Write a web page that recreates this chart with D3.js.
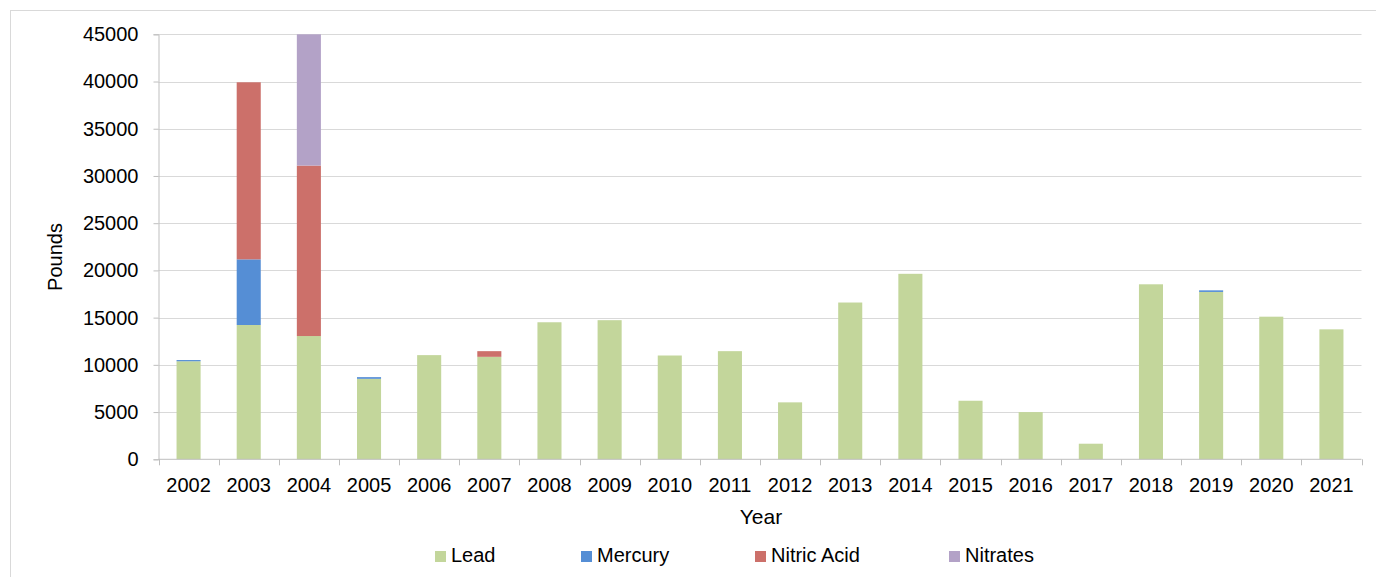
<!DOCTYPE html>
<html>
<head>
<meta charset="utf-8">
<script src="https://cdn.jsdelivr.net/npm/d3@7"></script>
<style>
  body { margin: 0; background: #fff; }
  svg { font-family: "Liberation Sans", Arial, sans-serif; }
</style>
</head>
<body>
<svg width="1376" height="577"></svg>
<script>
// data
var years = ["2002","2003","2004","2005","2006","2007","2008","2009","2010","2011",
             "2012","2013","2014","2015","2016","2017","2018","2019","2020","2021"];
var lead = [10380, 14220, 13050, 8520, 11030, 10850, 14510, 14730, 10990, 11450,
            6030, 16600, 19640, 6200, 5000, 1650, 18530, 17720, 15100, 13760];
var mercury = [130, 6950, 0, 180, 0, 0, 0, 0, 0, 0,
               0, 0, 0, 0, 0, 0, 0, 170, 0, 0];
var nitricAcid = [0, 18750, 18050, 0, 0, 600, 0, 0, 0, 0,
                  0, 0, 0, 0, 0, 0, 0, 0, 0, 0];
var nitrates = [0, 0, 13900, 0, 0, 0, 0, 0, 0, 0,
                0, 0, 0, 0, 0, 0, 0, 0, 0, 0];
var yTicks = [0, 5000, 10000, 15000, 20000, 25000, 30000, 35000, 40000, 45000];

var seriesNames = ["Lead", "Mercury", "Nitric Acid", "Nitrates"];
var colors = ["#c3d69b", "#558ed5", "#cc706a", "#b3a2c7"];

var rows = years.map(function(y, i) {
  return {year: y, "Lead": lead[i], "Mercury": mercury[i], "Nitric Acid": nitricAcid[i], "Nitrates": nitrates[i]};
});

var svg = d3.select("svg");

// outer frame
svg.append("rect")
  .attr("x", 10.5).attr("y", 10.5)
  .attr("width", 1400).attr("height", 600)
  .attr("fill", "none").attr("stroke", "#d9d9d9");

var plotL = 158.5, plotR = 1361.5, plotT = 34.3, plotB = 459.3;

var x = d3.scaleBand().domain(years).range([plotL, plotR]).paddingInner(0.6).paddingOuter(0.3);
var xb = d3.scaleBand().domain(years).range([plotL, plotR]);
var y = d3.scaleLinear().domain([0, 45000]).range([plotB, plotT]);

// grid
svg.append("g")
  .selectAll("line")
  .data(yTicks.slice(1))
  .enter().append("line")
  .attr("x1", plotL).attr("x2", plotR)
  .attr("y1", function(d) { return Math.round(y(d)) + 0.5; })
  .attr("y2", function(d) { return Math.round(y(d)) + 0.5; })
  .attr("stroke", "#d9d9d9").attr("stroke-width", 1);

// stacked bars
var stack = d3.stack().keys(seriesNames);
var layers = stack(rows);

svg.append("g")
  .selectAll("g")
  .data(layers)
  .enter().append("g")
  .attr("fill", function(d, i) { return colors[i]; })
  .selectAll("rect")
  .data(function(d) { return d.filter(function(p) { return p[1] - p[0] > 0; }); })
  .enter().append("rect")
  .attr("x", function(d) { return x(d.data.year); })
  .attr("width", x.bandwidth())
  .attr("y", function(d) { return y(d[1]); })
  .attr("height", function(d) { return y(d[0]) - y(d[1]); });

// y axis
var yAxis = d3.axisLeft(y).tickValues(yTicks).tickSize(5).tickPadding(15).tickFormat(d3.format("d"));
var gy = svg.append("g").attr("transform", "translate(" + plotL + ",0)").call(yAxis);
gy.select(".domain").attr("stroke", "#bfbfbf");
gy.selectAll(".tick line").attr("stroke", "#bfbfbf");
gy.selectAll("text").attr("font-size", 20).attr("fill", "#000")
  .attr("font-family", "Liberation Sans, Arial, sans-serif");

// x axis
var gx = svg.append("g").attr("transform", "translate(0," + plotB + ")");
gx.append("line").attr("x1", plotL).attr("x2", plotR).attr("y1", 0).attr("y2", 0).attr("stroke", "#bfbfbf");
gx.selectAll(".xt")
  .data(years.concat(["end"]))
  .enter().append("line")
  .attr("x1", function(d, i) { return Math.round(plotL + i * xb.bandwidth()) + 0.5; })
  .attr("x2", function(d, i) { return Math.round(plotL + i * xb.bandwidth()) + 0.5; })
  .attr("y1", 0).attr("y2", 6)
  .attr("stroke", "#bfbfbf");
gx.selectAll(".xl")
  .data(years)
  .enter().append("text")
  .attr("x", function(d) { return xb(d) + xb.bandwidth() / 2; })
  .attr("y", 33)
  .attr("text-anchor", "middle")
  .attr("font-size", 20)
  .text(function(d) { return d; });

// titles
svg.append("text")
  .attr("transform", "translate(62,257) rotate(-90)")
  .attr("text-anchor", "middle")
  .attr("font-size", 20)
  .text("Pounds");
svg.append("text")
  .attr("x", 761).attr("y", 524)
  .attr("text-anchor", "middle")
  .attr("font-size", 21)
  .text("Year");

// legend
var legendX = [435, 581, 755, 949];
var lg = svg.append("g").selectAll("g")
  .data(seriesNames)
  .enter().append("g")
  .attr("transform", function(d, i) { return "translate(" + legendX[i] + ",551)"; });
lg.append("rect").attr("width", 11).attr("height", 11).attr("fill", function(d, i) { return colors[i]; });
lg.append("text").attr("x", 16).attr("y", 11).attr("font-size", 20)
  .text(function(d) { return d; });
</script>
</body>
</html>
